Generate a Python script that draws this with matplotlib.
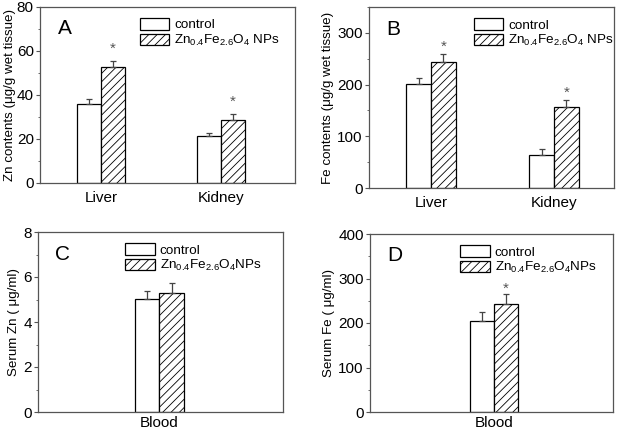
import numpy as np
import matplotlib
matplotlib.use("Agg")
import matplotlib.pyplot as plt
from matplotlib.ticker import MultipleLocator

plt.rcParams['font.family'] = ['Liberation Sans', 'DejaVu Sans']
plt.rcParams['hatch.linewidth'] = 0.6
plt.rcParams['mathtext.fontset'] = 'custom'
plt.rcParams['mathtext.rm'] = 'Liberation Sans'
plt.rcParams['mathtext.it'] = 'Liberation Sans'

# -----------------------------
# Data
# -----------------------------
organs = ["Liver", "Kidney"]
zn_control = [35.9, 21.4]
zn_control_err = [2.1, 1.2]
zn_np = [52.9, 28.6]
zn_np_err = [2.7, 2.6]
zn_star = [61.0, 37.0]

fe_control = [200.5, 63.8]
fe_control_err = [12, 11]
fe_np = [243, 156]
fe_np_err = [15.5, 14]
fe_star = [274, 184]

blood = ["Blood"]
serum_zn_control = [5.01]
serum_zn_control_err = [0.37]
serum_zn_np = [5.28]
serum_zn_np_err = [0.44]

serum_fe_control = [204.5]
serum_fe_control_err = [19.5]
serum_fe_np = [242.7]
serum_fe_np_err = [22]
serum_fe_star = [276]

NP_LABEL = "Zn$_{0.4}$Fe$_{2.6}$O$_4$ NPs"
NP_LABEL2 = "Zn$_{0.4}$Fe$_{2.6}$O$_4$NPs"

W, H = 618, 433
fig = plt.figure(figsize=(W / 100, H / 100), dpi=100)


def px_axes(left, right, top, bottom):
    return fig.add_axes([left / W, 1 - bottom / H, (right - left) / W, (bottom - top) / H])


def draw_panel(ax, cats, ctrl, ctrl_err, np_vals, np_err, ylim, major, minor,
               ylabel, letter, np_label, xlim, stars=None, leg_x=0.38, xpad=6, ylpad=2):
    x = np.arange(1, len(cats) + 1)
    bw = 0.2
    ekw = dict(ecolor="#444444", elinewidth=0.9, capthick=0.9)
    ax.bar(x - bw / 2, ctrl, bw, color="white", edgecolor="black", linewidth=0.9,
           yerr=[np.zeros(len(ctrl)), ctrl_err], capsize=2.5, error_kw=ekw, label="control")
    ax.bar(x + bw / 2, np_vals, bw, color="white", edgecolor="black", linewidth=0.9,
           hatch="////", yerr=[np.zeros(len(np_vals)), np_err], capsize=2.5,
           error_kw=ekw, label=np_label)
    if stars is not None:
        for xi, s in zip(x, stars):
            ax.text(xi + bw / 2, s, "*", ha="center", va="center", fontsize=11, color="#555555")
    ax.set_xlim(*xlim)
    ax.set_ylim(*ylim)
    ax.yaxis.set_major_locator(MultipleLocator(major))
    ax.yaxis.set_minor_locator(MultipleLocator(minor))
    ax.set_xticks(x)
    ax.set_xticklabels(cats, fontsize=11)
    ax.tick_params(axis="x", length=0, pad=xpad)
    ax.tick_params(axis="y", which="major", length=3, labelsize=11, pad=1.5, color="#555555")
    ax.tick_params(axis="y", which="minor", length=1.5, color="#555555")
    for sp in ax.spines.values():
        sp.set_color("#555555")
        sp.set_linewidth(0.9)
    ax.set_ylabel(ylabel, fontsize=9.6, labelpad=ylpad)
    ax.text(0.07, 0.93, letter, transform=ax.transAxes, fontsize=15, va="top", ha="left")
    ax.legend(loc="upper left", bbox_to_anchor=(leg_x, 0.968), frameon=False, fontsize=9.7,
              handlelength=2.2, handleheight=0.95, handletextpad=0.35, labelspacing=0.12,
              borderaxespad=0.0)


ax_a = px_axes(40, 295, 7, 183)
draw_panel(ax_a, organs, zn_control, zn_control_err, zn_np, zn_np_err, (0, 80), 20, 10,
           "Zn contents (μg/g wet tissue)", "A", NP_LABEL, (0.49, 2.62), stars=zn_star,
           leg_x=0.37, ylpad=0.5)

ax_b = px_axes(369, 614, 7, 188)
draw_panel(ax_b, organs, fe_control, fe_control_err, fe_np, fe_np_err, (0, 350), 100, 50,
           "Fe contents (μg/g wet tissue)", "B", NP_LABEL, (0.496, 2.488), stars=fe_star,
           leg_x=0.405)

ax_c = px_axes(38, 283, 232, 412)
draw_panel(ax_c, blood, serum_zn_control, serum_zn_control_err, serum_zn_np, serum_zn_np_err,
           (0, 8), 2, 1, "Serum Zn ( μg/ml)", "C", NP_LABEL2, (0.01, 2.01), leg_x=0.335,
           xpad=3)

ax_d = px_axes(370, 613, 234, 412)
draw_panel(ax_d, blood, serum_fe_control, serum_fe_control_err, serum_fe_np, serum_fe_np_err,
           (0, 400), 100, 50, "Serum Fe ( μg/ml)", "D", NP_LABEL2, (-0.02, 1.98),
           stars=serum_fe_star, leg_x=0.35, xpad=3)

fig.savefig("out.png", dpi=100)
